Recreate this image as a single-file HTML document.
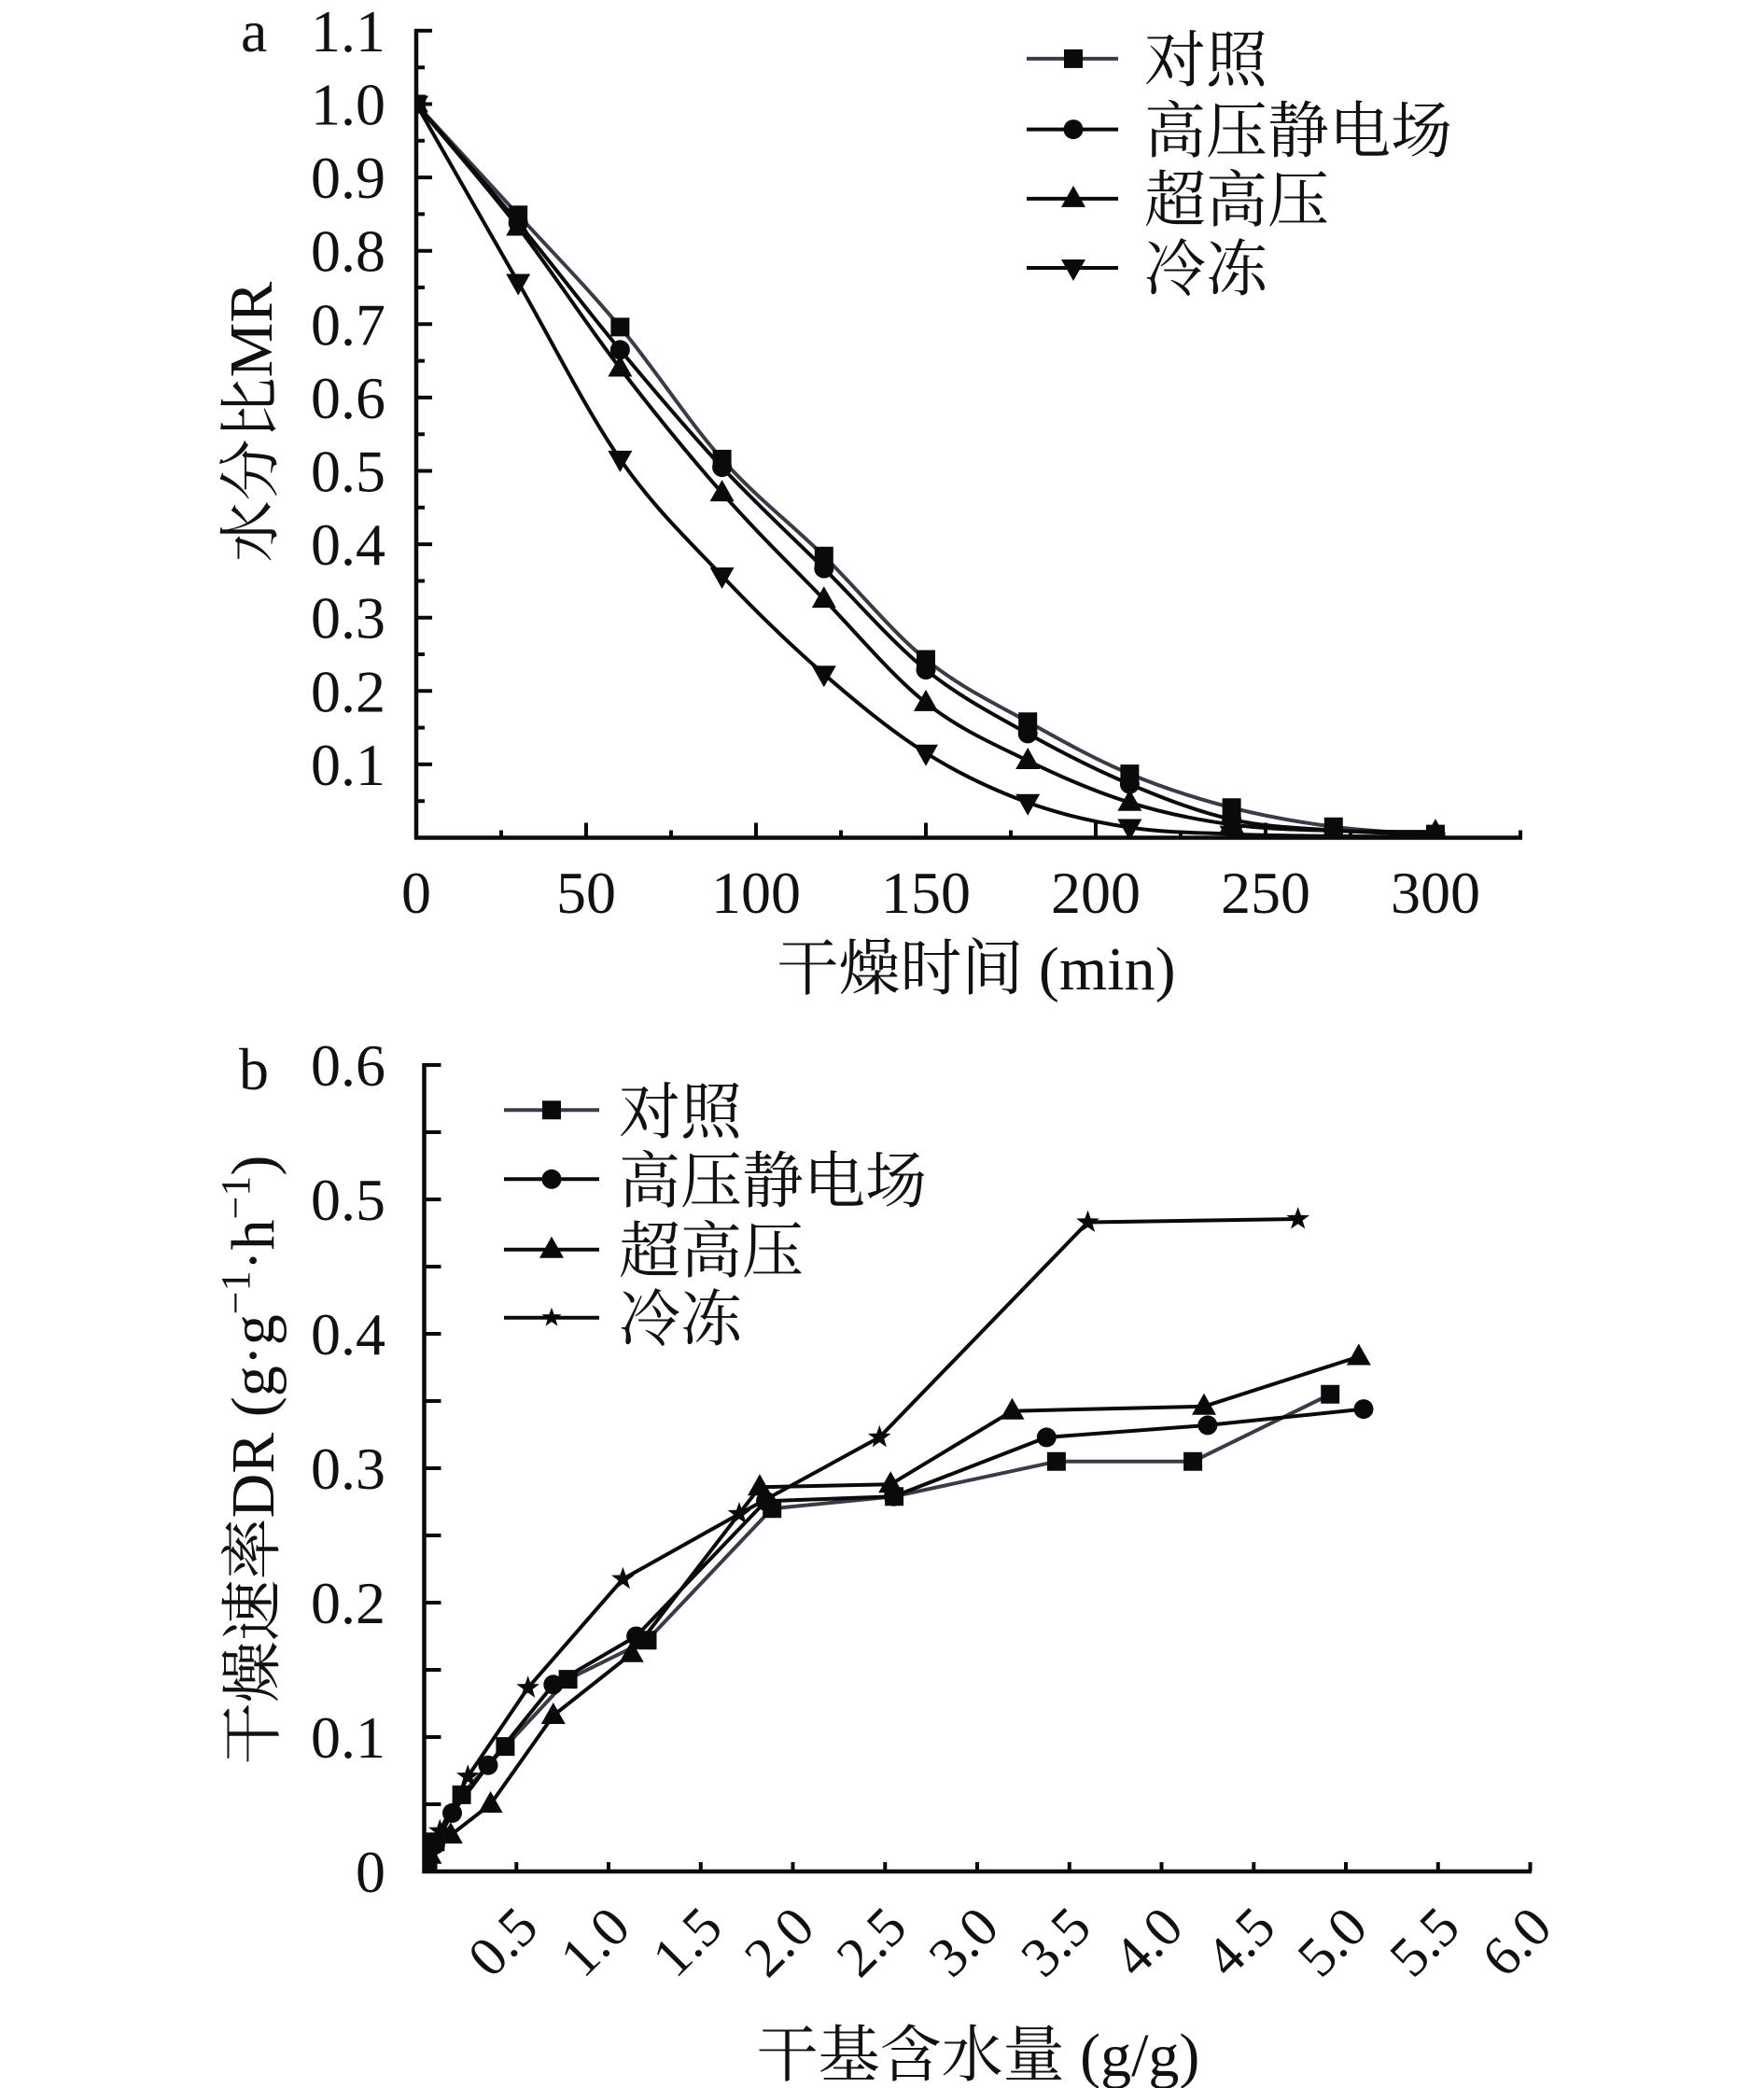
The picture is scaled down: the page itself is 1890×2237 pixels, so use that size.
<!DOCTYPE html>
<html><head><meta charset="utf-8"><style>
html,body{margin:0;padding:0;background:#fff;}
svg{display:block;}
text{font-family:"Liberation Serif","Noto Serif CJK SC",serif;fill:#111;}
</style></head><body>
<svg width="1890" height="2237" viewBox="0 0 1890 2237" xmlns="http://www.w3.org/2000/svg">
<defs>
<path id="sq" d="M-10,-10h20v20h-20z" fill="#0a0a0a"/>
<circle id="ci" r="10.5" fill="#0a0a0a"/>
<path id="tu" d="M0,-14L13,9L-13,9Z" fill="#0a0a0a"/>
<path id="td" d="M0,14L13,-9L-13,-9Z" fill="#0a0a0a"/>
<path id="st" d="M0,-13L3.06,-4.21L12.36,-4.02L4.95,1.61L7.64,10.52L0,5.2L-7.64,10.52L-4.95,1.61L-12.36,-4.02L-3.06,-4.21Z" fill="#0a0a0a"/>
<path id="stl" d="M0,-11L2.6,-3.6L10.5,-3.4L4.2,1.4L6.5,8.9L0,4.4L-6.5,8.9L-4.2,1.4L-10.5,-3.4L-2.6,-3.6Z" fill="#0a0a0a"/>
<clipPath id="ca"><rect x="446" y="0" width="1200" height="897.5"/></clipPath>
<clipPath id="cb"><rect x="454.5" y="1100" width="1200" height="905"/></clipPath>
</defs>

<!-- ===== Panel a ===== -->
<text x="258" y="55" font-size="64">a</text>
<g font-size="64" text-anchor="end">
<text x="413" y="55">1.1</text>
<text x="413" y="133.5">1.0</text>
<text x="413" y="212">0.9</text>
<text x="413" y="290.7">0.8</text>
<text x="413" y="369.3">0.7</text>
<text x="413" y="447.9">0.6</text>
<text x="413" y="526.5">0.5</text>
<text x="413" y="605.1">0.4</text>
<text x="413" y="683.7">0.3</text>
<text x="413" y="762.3">0.2</text>
<text x="413" y="840.9">0.1</text>
</g>
<g font-size="64" text-anchor="middle">
<text x="446" y="978">0</text>
<text x="628" y="978">50</text>
<text x="810" y="978">100</text>
<text x="992" y="978">150</text>
<text x="1174" y="978">200</text>
<text x="1356" y="978">250</text>
<text x="1538" y="978">300</text>
</g>
<text x="1046" y="1060" font-size="66" text-anchor="middle">干燥时间 (min)</text>
<text transform="translate(291,452) rotate(-90)" font-size="66" text-anchor="middle">水分比MR</text>

<g stroke="#0a0a0a" stroke-width="4" fill="none">
<path d="M446,30.9V899.5M443.8,897.5H1631" stroke-width="4.5"/>
<path d="M446,858.2h9M446,818.9h17M446,779.6h9M446,740.3h17M446,701h9M446,661.7h17M446,622.4h9M446,583.1h17M446,543.8h9M446,504.5h17M446,465.2h9M446,425.9h17M446,386.6h9M446,347.3h17M446,308h9M446,268.7h17M446,229.4h9M446,190.1h17M446,150.8h9M446,111.5h17M446,72.2h9M446,32.9h17"/>
<path d="M537,897.5v-8M628,897.5v-16M719,897.5v-8M810,897.5v-16M901,897.5v-8M992,897.5v-16M1083,897.5v-8M1174,897.5v-16M1265,897.5v-8M1356,897.5v-16M1447,897.5v-8M1538,897.5v-16M1629,897.5v-8"/>
</g>

<g fill="none" stroke-width="4" stroke-linejoin="round">
<path stroke="#3a3a48" d="M446,111.5 C482.4,151.1 518.8,190.4 555.2,230.2 C591.6,270 628,306.8 664.4,350.4 C700.8,394 737.2,451 773.6,491.9 C810,532.8 846.4,559.9 882.8,595.7 C919.2,631.5 955.6,676.9 992,706.5 C1028.4,736.1 1064.8,752.9 1101.2,773.3 C1137.6,793.7 1174,813.8 1210.4,829.1 C1246.8,844.4 1283.2,855.9 1319.6,865.3 C1356,874.7 1392.4,881 1428.8,885.7 C1465.2,890.4 1501.6,892.3 1538,893.6"/>
<path stroke="#0a0a0a" d="M446,111.5 C482.4,153.9 518.8,194.9 555.2,238.8 C591.6,282.7 628,331.2 664.4,374.8 C700.8,418.4 737.2,461.6 773.6,500.6 C810,539.6 846.4,572.9 882.8,609 C919.2,645.2 955.6,688 992,717.5 C1028.4,747 1064.8,765.5 1101.2,785.9 C1137.6,806.3 1174,824.8 1210.4,840.1 C1246.8,855.4 1283.2,869.7 1319.6,877.9 C1356,886.2 1392.4,887 1428.8,889.6 C1465.2,892.2 1501.6,892.9 1538,893.6"/>
<path stroke="#0a0a0a" d="M446,111.5 C482.4,155.5 518.8,196.3 555.2,243.5 C591.6,290.7 628,347.1 664.4,394.5 C700.8,441.9 737.2,486.8 773.6,528.1 C810,569.4 846.4,604.6 882.8,642.1 C919.2,679.6 955.6,724.1 992,752.9 C1028.4,781.7 1064.8,797.2 1101.2,815 C1137.6,832.8 1174,848.4 1210.4,859.8 C1246.8,871.2 1283.2,878.4 1319.6,883.4 C1356,888.4 1392.4,888.7 1428.8,890 C1465.2,891.3 1501.6,891 1538,891.2"/>
<path stroke="#0a0a0a" d="M446,111.5 C482.4,175.2 518.8,239.1 555.2,302.5 C591.6,365.9 628,439.5 664.4,491.9 C700.8,544.3 737.2,578.5 773.6,616.9 C810,655.3 846.4,690.6 882.8,722.2 C919.2,753.8 955.6,783.8 992,806.7 C1028.4,829.6 1064.8,846.5 1101.2,859.8 C1137.6,873.1 1174,880.9 1210.4,886.5 C1246.8,892.1 1283.2,892 1319.6,893.6 C1356,895.2 1392.4,895.4 1428.8,895.9 C1465.2,896.4 1501.6,896.6 1538,896.7"/>
</g>

<g clip-path="url(#ca)">
<use href="#td" x="446" y="111.5"/><use href="#td" x="555.2" y="302.5"/><use href="#td" x="664.4" y="491.9"/><use href="#td" x="773.6" y="616.9"/><use href="#td" x="882.8" y="722.2"/><use href="#td" x="992" y="806.7"/><use href="#td" x="1101.2" y="859.8"/><use href="#td" x="1210.4" y="886.5"/><use href="#td" x="1319.6" y="893.6"/>
<use href="#tu" x="446" y="111.5"/><use href="#tu" x="555.2" y="243.5"/><use href="#tu" x="664.4" y="394.5"/><use href="#tu" x="773.6" y="528.1"/><use href="#tu" x="882.8" y="642.1"/><use href="#tu" x="992" y="752.9"/><use href="#tu" x="1101.2" y="815"/><use href="#tu" x="1210.4" y="859.8"/><use href="#tu" x="1319.6" y="883.4"/><use href="#tu" x="1428.8" y="890"/><use href="#tu" x="1538" y="891.2"/>
<use href="#ci" x="446" y="111.5"/><use href="#ci" x="555.2" y="238.8"/><use href="#ci" x="664.4" y="374.8"/><use href="#ci" x="773.6" y="500.6"/><use href="#ci" x="882.8" y="609"/><use href="#ci" x="992" y="717.5"/><use href="#ci" x="1101.2" y="785.9"/><use href="#ci" x="1210.4" y="840.1"/><use href="#ci" x="1319.6" y="877.9"/><use href="#ci" x="1428.8" y="889.6"/><use href="#ci" x="1538" y="893.6"/>
<use href="#sq" x="446" y="111.5"/><use href="#sq" x="555.2" y="230.2"/><use href="#sq" x="664.4" y="350.4"/><use href="#sq" x="773.6" y="491.9"/><use href="#sq" x="882.8" y="595.7"/><use href="#sq" x="992" y="706.5"/><use href="#sq" x="1101.2" y="773.3"/><use href="#sq" x="1210.4" y="829.1"/><use href="#sq" x="1319.6" y="865.3"/><use href="#sq" x="1428.8" y="885.7"/><use href="#sq" x="1538" y="893.6"/>
</g>

<!-- legend a -->
<g stroke-width="4">
<line x1="1100" y1="62.9" x2="1198" y2="62.9" stroke="#3a3a48"/>
<line x1="1100" y1="138.6" x2="1198" y2="138.6" stroke="#0a0a0a"/>
<line x1="1100" y1="212.9" x2="1198" y2="212.9" stroke="#0a0a0a"/>
<line x1="1100" y1="287" x2="1198" y2="287" stroke="#0a0a0a"/>
</g>
<use href="#sq" x="1150" y="62.9"/>
<use href="#ci" x="1150" y="138.6"/>
<use href="#tu" x="1150" y="212.9"/>
<use href="#td" x="1150" y="287"/>
<g font-size="66">
<text x="1226" y="87">对照</text>
<text x="1226" y="163">高压静电场</text>
<text x="1226" y="237">超高压</text>
<text x="1226" y="311">冷冻</text>
</g>

<!-- ===== Panel b ===== -->
<text x="256" y="1167" font-size="64">b</text>
<g font-size="64" text-anchor="end">
<text x="413" y="1163">0.6</text>
<text x="413" y="1307">0.5</text>
<text x="413" y="1451">0.4</text>
<text x="413" y="1595">0.3</text>
<text x="413" y="1739">0.2</text>
<text x="413" y="1883">0.1</text>
<text x="413" y="2027">0</text>
</g>
<g font-size="60" text-anchor="end">
<text transform="translate(579.3,2068) rotate(-45)">0.5</text>
<text transform="translate(678,2068) rotate(-45)">1.0</text>
<text transform="translate(776.8,2068) rotate(-45)">1.5</text>
<text transform="translate(875.5,2068) rotate(-45)">2.0</text>
<text transform="translate(974.3,2068) rotate(-45)">2.5</text>
<text transform="translate(1073,2068) rotate(-45)">3.0</text>
<text transform="translate(1171.8,2068) rotate(-45)">3.5</text>
<text transform="translate(1270.5,2068) rotate(-45)">4.0</text>
<text transform="translate(1369.3,2068) rotate(-45)">4.5</text>
<text transform="translate(1468,2068) rotate(-45)">5.0</text>
<text transform="translate(1566.8,2068) rotate(-45)">5.5</text>
<text transform="translate(1665.5,2068) rotate(-45)">6.0</text>
</g>
<text x="1048" y="2224" font-size="66" text-anchor="middle">干基含水量 (g/g)</text>
<text transform="translate(293,1564) rotate(-90)" font-size="66" text-anchor="middle">干燥速率DR (g·g<tspan dy="-26" font-size="44">−1</tspan><tspan dy="26">·h</tspan><tspan dy="-26" font-size="44">−1</tspan><tspan dy="26">)</tspan></text>

<g stroke="#0a0a0a" stroke-width="4" fill="none">
<path d="M454.5,1139V2007.2M452.2,2005H1641" stroke-width="4.5"/>
<path d="M454.5,1933h18M454.5,1861h18M454.5,1789h18M454.5,1717h18M454.5,1645h18M454.5,1573h18M454.5,1501h18M454.5,1429h18M454.5,1357h18M454.5,1285h18M454.5,1213h18M454.5,1141h18"/>
<path d="M553.3,2005v-10M652,2005v-10M750.8,2005v-10M849.5,2005v-10M948.3,2005v-10M1047,2005v-10M1145.8,2005v-10M1244.5,2005v-10M1343.3,2005v-10M1442,2005v-10M1540.8,2005v-10M1639.5,2005v-10"/>
</g>

<g fill="none" stroke-width="4" stroke-linejoin="round">
<path stroke="#3a3a48" d="M455.5,2002 L458.5,1993.5 L466.4,1973.3 L494.6,1922.9 L541.4,1871.1 L608.6,1799.1 L693.5,1757.3 L827.2,1616.2 L958.1,1603.2 L1131.9,1565.8 L1278.1,1565.8 L1425.2,1493.8"/>
<path stroke="#0a0a0a" d="M455.5,2002 L458.5,1990.6 L466.4,1976.2 L484.5,1942.4 L523,1891.2 L592.8,1804.8 L681.6,1753 L820.5,1608.3 L957.5,1603.2 L1121.3,1539.9 L1293.9,1526.9 L1461,1509.6"/>
<path stroke="#0a0a0a" d="M455.5,2002 L460.4,1987.7 L482.9,1966.1 L525.6,1933 L592.8,1838 L676.7,1771.7 L814,1593.2 L954.2,1590.3 L1084.5,1511.7 L1290,1506.8 L1455.8,1453.5"/>
<path stroke="#0a0a0a" d="M455.5,2002 L460.4,1987.7 L471.3,1961.8 L501.3,1903.3 L565.7,1808.3 L667.4,1691.7 L792,1622 L942.3,1539.9 L1165.5,1309.5 L1390.7,1306"/>
</g>

<g clip-path="url(#cb)">
<use href="#st" x="460.4" y="1987.7"/><use href="#st" x="471.3" y="1961.8"/><use href="#st" x="501.3" y="1903.3"/><use href="#st" x="565.7" y="1808.3"/><use href="#st" x="667.4" y="1691.7"/><use href="#st" x="792" y="1622"/><use href="#st" x="942.3" y="1539.9"/><use href="#st" x="1165.5" y="1309.5"/><use href="#st" x="1390.7" y="1306"/>
<use href="#tu" x="460.4" y="1987.7"/><use href="#tu" x="482.9" y="1966.1"/><use href="#tu" x="525.6" y="1933"/><use href="#tu" x="592.8" y="1838"/><use href="#tu" x="676.7" y="1771.7"/><use href="#tu" x="814" y="1593.2"/><use href="#tu" x="954.2" y="1590.3"/><use href="#tu" x="1084.5" y="1511.7"/><use href="#tu" x="1290" y="1506.8"/><use href="#tu" x="1455.8" y="1453.5"/>
<use href="#ci" x="458.5" y="1990.6"/><use href="#ci" x="466.4" y="1976.2"/><use href="#ci" x="484.5" y="1942.4"/><use href="#ci" x="523" y="1891.2"/><use href="#ci" x="592.8" y="1804.8"/><use href="#ci" x="681.6" y="1753"/><use href="#ci" x="820.5" y="1608.3"/><use href="#ci" x="957.5" y="1603.2"/><use href="#ci" x="1121.3" y="1539.9"/><use href="#ci" x="1293.9" y="1526.9"/><use href="#ci" x="1461" y="1509.6"/>
<use href="#sq" x="458.5" y="1993.5"/><use href="#sq" x="466.4" y="1973.3"/><use href="#sq" x="494.6" y="1922.9"/><use href="#sq" x="541.4" y="1871.1"/><use href="#sq" x="608.6" y="1799.1"/><use href="#sq" x="693.5" y="1757.3"/><use href="#sq" x="827.2" y="1616.2"/><use href="#sq" x="958.1" y="1603.2"/><use href="#sq" x="1131.9" y="1565.8"/><use href="#sq" x="1278.1" y="1565.8"/><use href="#sq" x="1425.2" y="1493.8"/>
</g>

<!-- legend b -->
<g stroke-width="4">
<line x1="540" y1="1189.3" x2="642" y2="1189.3" stroke="#3a3a48"/>
<line x1="540" y1="1263.3" x2="642" y2="1263.3" stroke="#0a0a0a"/>
<line x1="540" y1="1338.7" x2="642" y2="1338.7" stroke="#0a0a0a"/>
<line x1="540" y1="1411.7" x2="642" y2="1411.7" stroke="#0a0a0a"/>
</g>
<use href="#sq" x="591" y="1189.3"/>
<use href="#ci" x="591" y="1263.3"/>
<use href="#tu" x="591" y="1338.7"/>
<use href="#stl" x="591" y="1411.7"/>
<g font-size="66">
<text x="663" y="1214">对照</text>
<text x="663" y="1288">高压静电场</text>
<text x="663" y="1363">超高压</text>
<text x="663" y="1436">冷冻</text>
</g>
</svg>
</body></html>
